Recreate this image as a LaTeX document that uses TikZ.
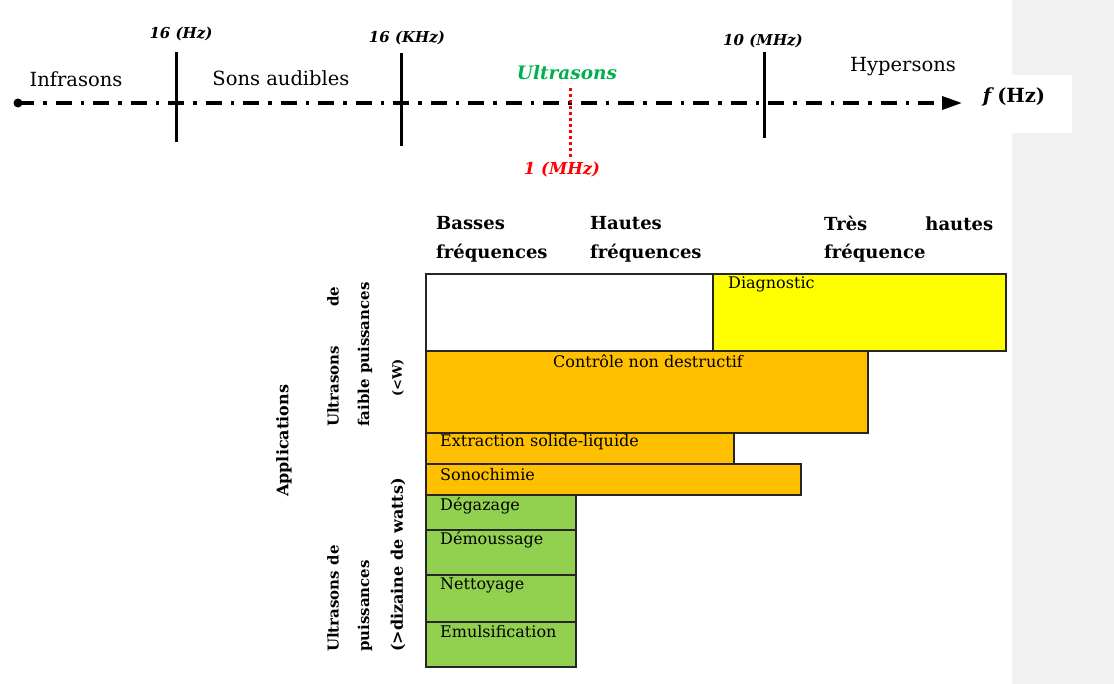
\documentclass[tikz,border=0pt]{standalone}
\usepackage{fontspec}
\setmainfont{DejaVu Serif}
\usetikzlibrary{arrows.meta}
\definecolor{panelgray}{RGB}{241,241,241}
\definecolor{usgreen}{RGB}{0,176,80}
\definecolor{orangebox}{RGB}{255,192,0}
\definecolor{yellowbox}{RGB}{255,255,0}
\definecolor{greenbox}{RGB}{146,208,80}
\tikzset{
  axislbl/.style={inner sep=0pt, font=\fontsize{19.5}{22}\selectfont},
  freqlbl/.style={inner sep=0pt, font=\fontsize{15}{17}\selectfont\bfseries\itshape},
  tick/.style={line width=3pt},
  hdr/.style={inner sep=0pt, anchor=west, font=\fontsize{18}{20}\selectfont\bfseries},
  boxtxt/.style={inner sep=0pt, anchor=west, font=\fontsize{16}{18}\selectfont},
  cell/.style={draw=black!85, line width=1.2pt},
  vtxt/.style={inner sep=0pt, rotate=90, anchor=west, font=\fontsize{15}{17}\selectfont\bfseries},
}
\begin{document}
\begin{tikzpicture}[x=1pt,y=-1pt]
\useasboundingbox (0,0) rectangle (1114,684);
% right gray panel
\fill[panelgray] (1012,0) rectangle (1114,684);
\fill[white] (935,75) rectangle (1072,133);

% axis
\coordinate (start) at (18,103);
\coordinate (end) at (962,103);
\fill (start) circle (4.5);
\draw[line width=3.5pt, dash pattern=on 16pt off 9pt on 3.5pt off 9pt, -{Triangle[length=20pt,width=13pt]}] (start) -- (end);

% ticks
\coordinate (t1a) at (176,52); \coordinate (t1b) at (176,142);
\coordinate (t2a) at (401,53); \coordinate (t2b) at (401,146);
\coordinate (t3a) at (764,52); \coordinate (t3b) at (764,138);
\draw[tick] (t1a) -- (t1b);
\draw[tick] (t2a) -- (t2b);
\draw[tick] (t3a) -- (t3b);

\node[freqlbl] (l16hz) at (181,34) {16 (Hz)};
\node[freqlbl] (l16khz) at (407,38) {16 (KHz)};
\node[freqlbl] (l10mhz) at (763,41) {10 (MHz)};

\node[axislbl] (infra) at (76,79) {Infrasons};
\node[axislbl] (audible) at (281,78) {Sons audibles};
\node[axislbl] (hyper) at (903,67) {Hypersons};
\node[inner sep=0pt, text=usgreen, font=\fontsize{18.5}{20}\selectfont\bfseries\itshape] (ultra) at (567,73) {Ultrasons};

% 1 MHz marker
\coordinate (m1a) at (570,88);
\coordinate (m1b) at (570,158);
\draw[red, line width=3pt, dash pattern=on 3pt off 3pt] (m1a) -- (m1b);
\node[inner sep=0pt, text=red, font=\fontsize{16.5}{18}\selectfont\bfseries\itshape] (l1mhz) at (562,170) {1 (MHz)};

\node[inner sep=0pt, font=\fontsize{19.5}{22}\selectfont\bfseries] (fhz) at (1014,97) {\textit{f}\,(Hz)};

% headers
\node[hdr] (h1a) at (436,223) {Basses};
\node[hdr] (h1b) at (436,253) {fréquences};
\node[hdr] (h2a) at (590,223) {Hautes};
\node[hdr] (h2b) at (590,253) {fréquences};
\node[hdr] (h3a) at (824,223) {\makebox[169pt][s]{Très\hfill hautes}};
\node[hdr] (h3b) at (824,253) {fréquence};

% boxes
\draw[cell, fill=white] (426,274) rectangle (713,351);
\draw[cell, fill=yellowbox] (713,274) rectangle (1006,351);
\draw[cell, fill=orangebox] (426,351) rectangle (868,433);
\draw[cell, fill=orangebox] (426,433) rectangle (734,464);
\draw[cell, fill=orangebox] (426,464) rectangle (801,495);
\draw[cell, fill=greenbox] (426,495) rectangle (576,530);
\draw[cell, fill=greenbox] (426,530) rectangle (576,575);
\draw[cell, fill=greenbox] (426,575) rectangle (576,622);
\draw[cell, fill=greenbox] (426,622) rectangle (576,667);

\node[boxtxt] (diag) at (728,284) {Diagnostic};
\node[boxtxt, anchor=center] (cnd) at (648,361) {Contrôle non destructif};
\node[boxtxt] (extr) at (440,442) {Extraction solide-liquide};
\node[boxtxt] (sono) at (440,475) {Sonochimie};
\node[boxtxt] (degaz) at (440,506) {Dégazage};
\node[boxtxt] (demou) at (440,540) {Démoussage};
\node[boxtxt] (netto) at (440,585) {Nettoyage};
\node[boxtxt] (emuls) at (440,632) {Emulsification};

% vertical labels
\node[vtxt, font=\fontsize{16}{18}\selectfont\bfseries] (appl) at (284,497) {Applications};
\node[vtxt] (ufa) at (333,427) {\makebox[140pt][s]{Ultrasons\hfill de}};
\node[vtxt] (ufb) at (365,427) {faible puissances};
\node[vtxt, font=\fontsize{13}{15}\selectfont\bfseries] (ufc) at (398,397) {(<W)};
\node[vtxt] (upa) at (333,652) {Ultrasons de};
\node[vtxt] (upb) at (365,652) {puissances};
\node[vtxt, font=\fontsize{16}{18}\selectfont\bfseries] (upc) at (398,652) {(>dizaine de watts)};
\end{tikzpicture}
\end{document}
